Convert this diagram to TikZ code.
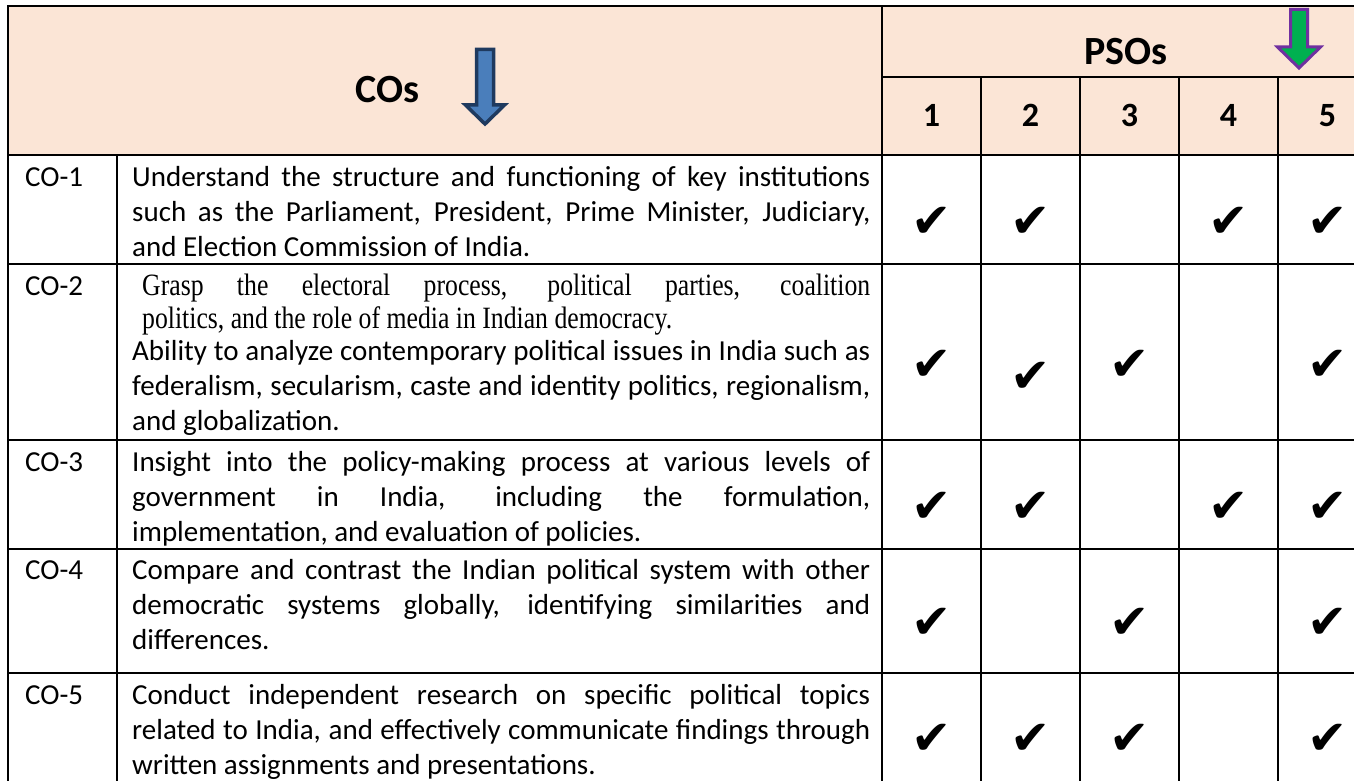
\documentclass[tikz,border=0pt]{standalone}
\usepackage{fontspec}
\setmainfont{Carlito}
\newfontfamily\camfont[FakeStretch=0.83]{Liberation Serif}
\newfontfamily\tickfont{DejaVu Sans}
\definecolor{hdrfill}{HTML}{FBE5D6}
\definecolor{coblue}{HTML}{4A7EBB}
\definecolor{coline}{HTML}{1F3A5F}
\definecolor{psogreen}{HTML}{00B050}
\definecolor{psoline}{HTML}{7030A0}
\newcommand{\jl}[1]{{\spaceskip=0pt\xspaceskip=0pt\makebox[738pt][s]{#1}}}
\newcommand{\fst}{\spaceskip=0pt\xspaceskip=0pt\rule{0pt}{25pt}}
\tikzset{
  grid/.style={line width=2.6pt, line cap=rect},
  colabel/.style={anchor=base west, inner sep=0pt, font=\fontsize{29}{35}\selectfont},
  cotext/.style={anchor=north west, inner sep=0pt, text width=742pt, align=left, font=\fontsize{29}{35}\selectfont},
  hdr/.style={inner sep=0pt, font=\fontsize{40}{48}\selectfont\bfseries},
  psonum/.style={anchor=base, inner sep=0pt, font=\fontsize{34}{40}\selectfont\bfseries},
  chk/.style={inner sep=0pt, font=\fontsize{48}{52}\selectfont\tickfont},
}
\begin{document}
\begin{tikzpicture}[x=1pt, y=-1pt]
\useasboundingbox (0,0) rectangle (1354,781);
\clip (0,0) rectangle (1354,781);
\fill[hdrfill] (8,6) rectangle (1377,155);
% grid
\draw[grid] (8,6) -- (1377,6);
\draw[grid] (882,77) -- (1377,77);
\draw[grid] (8,155) -- (1377,155);
\foreach \y in {264,440,549,673}
  \draw[grid] (8,\y) -- (1377,\y);
\draw[grid] (8,6) -- (8,790);
\draw[grid] (882,6) -- (882,790);
\draw[grid] (117,155) -- (117,790);
\foreach \x in {981,1080,1179,1278}
  \draw[grid] (\x,77) -- (\x,790);
% header
\node[hdr, anchor=base east] (cos) at (420,103) {COs};
\filldraw[fill=coblue, draw=coline, line width=3.5pt, line join=miter] (476.5,49.5) -- (493.5,49.5) -- (493.5,105) -- (504.5,105) -- (485,124) -- (465.5,105) -- (476.5,105) -- cycle;
\node[hdr, anchor=base] (psos) at (1126,65) {PSOs};
\filldraw[fill=psogreen, draw=psoline, line width=3pt, line join=miter] (1290.5,9.5) -- (1307.5,9.5) -- (1307.5,47) -- (1320.5,47) -- (1299,68) -- (1277.5,47) -- (1290.5,47) -- cycle;
\foreach \c in {1,...,5}
  \node[psonum] (p\c) at ({832.5+99*\c},127) {\c};
% rows
\node[colabel] (co1) at (25,186) {CO-1};
\node[cotext] (t1) at (132,161) {\fst\jl{Understand the structure and functioning of key institutions}\\
\jl{such as the Parliament, President, Prime Minister, Judiciary,}\\
and Election Commission of India.};
\node[colabel] (co2) at (25,295) {CO-2};
\node[cotext, font=\fontsize{31}{33}\camfont] (t2a) at (132,270) {\fst\hspace*{10pt}{\spaceskip=0pt\makebox[728pt][s]{Grasp the electoral process, political parties, coalition}}\\
\hspace*{10pt}politics, and the role of media in Indian democracy.};
\node[cotext] (t2b) at (132,335) {\fst\jl{Ability to analyze contemporary political issues in India such as}\\
\jl{federalism, secularism, caste and identity politics, regionalism,}\\
and globalization.};
\node[colabel] (co3) at (25,471) {CO-3};
\node[cotext] (t3) at (132,446) {\fst\jl{Insight into the policy-making process at various levels of}\\
\jl{government in India, including the formulation,}\\
implementation, and evaluation of policies.};
\node[colabel] (co4) at (25,579) {CO-4};
\node[cotext] (t4) at (132,554) {\fst\jl{Compare and contrast the Indian political system with other}\\
\jl{democratic systems globally, identifying similarities and}\\
differences.};
\node[colabel] (co5) at (25,704) {CO-5};
\node[cotext] (t5) at (132,679) {\fst\jl{Conduct independent research on specific political topics}\\
\jl{related to India, and effectively communicate findings through}\\
written assignments and presentations.};
% ticks
\foreach \r/\y/\cl in {1/222/{1,2,4,5}, 2/365/{1,3,5}, 3/507/{1,2,4,5}, 4/623/{1,3,5}, 5/739/{1,2,3,5}}
  \foreach \c in \cl
    \node[chk] (k\r\c) at ({832.5+99*\c},\y) {✔};
\node[chk] (k22) at (1030.5,377) {✔};
\end{tikzpicture}
\end{document}
